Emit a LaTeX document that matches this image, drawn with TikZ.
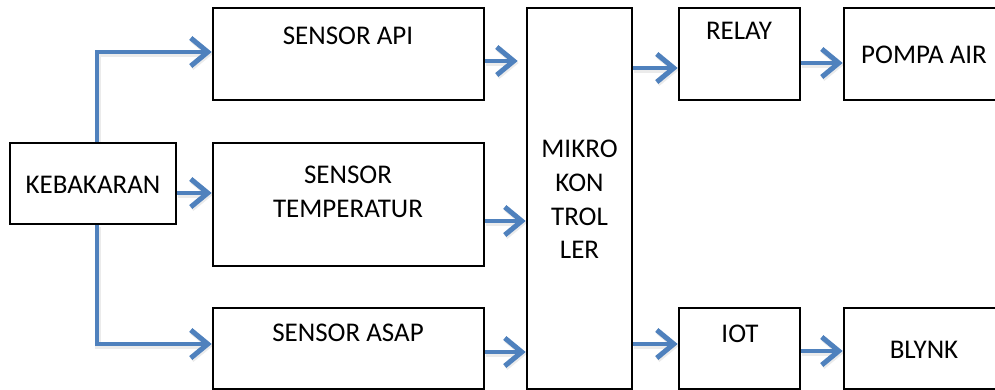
\documentclass[tikz,border=0pt]{standalone}
\usepackage{fontspec}
\setmainfont{Carlito}
\usetikzlibrary{arrows.meta,calc}
\definecolor{arrowblue}{HTML}{4F81BD}
\begin{document}
\begin{tikzpicture}[x=1pt,y=-1pt,
  box/.style={draw=black, line width=2.6pt, rectangle, inner sep=0pt},
  lbl/.style={inner sep=0pt, align=center, font=\fontsize{27}{33.7}\selectfont},
  arr/.style={draw=arrowblue, line width=4.5pt,
    -{Straight Barb[length=17pt,width=28pt,line width=5pt]},
    preaction={draw=black, opacity=0.08, line width=5.5pt,
      transform canvas={shift={(1pt,-2pt)}}}}]
\useasboundingbox (0,0) rectangle (995,390);
\clip (0,0) rectangle (995,390);

% blocks
\node[box, minimum width=166, minimum height=81]  (keb)   at (93,183.5)  {};
\node[box, minimum width=271, minimum height=92]  (api)   at (348.5,54)  {};
\node[box, minimum width=271, minimum height=123] (temp)  at (348.5,204.5) {};
\node[box, minimum width=271, minimum height=81]  (asap)  at (348.5,348.5) {};
\node[box, minimum width=105, minimum height=381] (mik)   at (579.5,198.5) {};
\node[box, minimum width=121, minimum height=92]  (relay) at (739.5,54)  {};
\node[box, minimum width=166, minimum height=92]  (pompa) at (927,54)    {};
\node[box, minimum width=121, minimum height=81]  (iot)   at (739.5,348.5) {};
\node[box, minimum width=166, minimum height=81]  (blynk) at (927,348.5) {};

% labels
\node[lbl] (tkeb)   at (93,185)    {KEBAKARAN};
\node[lbl] (tapi)   at (348,36)    {SENSOR API};
\node[lbl] (ttemp)  at (348,192)   {SENSOR\\TEMPERATUR};
\node[lbl] (tasap)  at (348,333)   {SENSOR ASAP};
\node[lbl] (tmik)   at (579.5,199.5) {MIKRO\\KON\\TROL\\LER};
\node[lbl] (trelay) at (739,31)    {RELAY};
\node[lbl] (tpompa) at (924,55)    {POMPA AIR};
\node[lbl] (tiot)   at (740,334)   {IOT};
\node[lbl] (tblynk) at (924,350)   {BLYNK};

% connector rows
\coordinate (yA) at (0,52);
\coordinate (yT) at (0,193);
\coordinate (yS) at (0,344);

% fire source to the three sensors
\draw[arr] ($(keb.north)+(4,0)$) |- (api.west |- yA);
\draw[arr] (keb.east |- yT) -- (temp.west |- yT);
\draw[arr] ($(keb.south)+(4,0)$) |- (asap.west |- yS);

% sensors to the microcontroller
\coordinate (y1) at (0,61);
\coordinate (y2) at (0,221);
\coordinate (y3) at (0,352);
\draw[arr] (api.east |- y1) -- ($(mik.west |- y1)+(-8,0)$);
\draw[arr] (temp.east |- y2) -- (mik.west |- y2);
\draw[arr] (asap.east |- y3) -- (mik.west |- y3);

% microcontroller to outputs
\coordinate (y4) at (0,68);
\coordinate (y5) at (0,344);
\draw[arr] (mik.east |- y4) -- (relay.west |- y4);
\draw[arr] (mik.east |- y5) -- (iot.west |- y5);

\coordinate (y6) at (0,63);
\coordinate (y7) at (0,351);
\draw[arr] (relay.east |- y6) -- (pompa.west |- y6);
\draw[arr] (iot.east |- y7) -- (blynk.west |- y7);
\end{tikzpicture}
\end{document}
